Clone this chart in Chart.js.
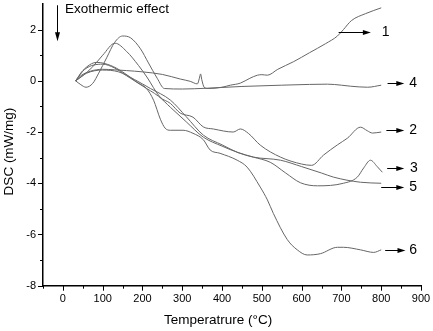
<!DOCTYPE html>
<html><head><meta charset="utf-8">
<script src="https://cdn.jsdelivr.net/npm/chart.js@4.4.0/dist/chart.umd.min.js"></script>
<style>html,body{margin:0;padding:0;background:#fff}#wrap{width:433px;height:331px}</style>
</head><body><div id="wrap"><canvas id="c" width="433" height="331"></canvas></div>
<script>
// ---- data (temperature °C, DSC mW/mg) ----
const temp1 = [32,45,70,100,130,160,200,250,295,320,338,343,346,349,355,365,400,421,446,470,489,500,514,540,580,620,660,690,705,725,760,800];
const dsc1  = [0,0.2,0.38,0.45,0.43,0.4,0.35,0.25,0.07,-0.02,-0.12,0.1,0.27,0.05,-0.25,-0.3,-0.25,-0.17,-0.09,0.1,0.22,0.24,0.22,0.45,0.75,1.1,1.45,1.75,2.0,2.35,2.62,2.85];
const temp2 = [32,50,75,100,131,160,190,211,244,270,295,327,353,378,428,446,466,496,547,600,625,655,690,715,748,765,778,800];
const dsc2  = [0,0.2,0.55,1.0,1.47,1.15,0.6,0.15,-0.63,-0.88,-1.26,-1.42,-1.8,-1.88,-2.0,-1.88,-2.05,-2.51,-2.98,-3.25,-3.3,-2.9,-2.5,-2.24,-1.81,-1.95,-2.04,-2.0];
const temp3 = [32,55,100,130,160,200,240,270,310,353,400,440,479,521,560,597,640,705,740,756,773,790,803];
const dsc3  = [0,0.45,0.65,0.5,0.2,-0.2,-0.6,-1.03,-1.6,-2.2,-2.55,-2.8,-2.98,-3.18,-3.6,-3.98,-4.1,-4.0,-3.76,-3.4,-3.1,-3.35,-3.57];
const temp4 = [32,45,58,75,90,110,130,150,170,195,215,237,255,300,360,450,550,620,665,700,723,766,800];
const dsc4  = [0,-0.15,-0.25,-0.1,0.3,0.9,1.5,1.75,1.68,1.25,0.7,0.1,-0.3,-0.32,-0.29,-0.22,-0.17,-0.14,-0.13,-0.17,-0.21,-0.25,-0.17];
const temp5 = [32,60,100,140,180,220,270,310,353,400,440,479,547,600,650,680,748,800];
const dsc5  = [0,0.3,0.42,0.35,0.05,-0.3,-0.75,-1.4,-2.12,-2.5,-2.8,-2.98,-3.1,-3.35,-3.6,-3.76,-3.96,-4.0];
const temp6 = [32,50,85,120,150,186,210,228,245,257,270,302,327,353,370,395,438,463,496,514,529,564,589,614,647,690,705,748,781,800];
const dsc6  = [0,0.4,0.72,0.6,0.35,-0.05,-0.3,-0.76,-1.5,-1.85,-1.93,-1.93,-2.05,-2.3,-2.7,-2.83,-3.1,-3.37,-4.15,-4.65,-5.18,-6.2,-6.6,-6.8,-6.75,-6.5,-6.5,-6.6,-6.7,-6.6];

const curveLabels = ['1','2','3','4','5','6'];
// arrow start T, arrow end T, arrow level, label T (data units)
const arrowFrom = [693,813,815,816,800,810];
const arrowTo   = [774,858,858,858,858,861];
const arrowY    = [1.9,-1.93,-3.42,-0.09,-4.15,-6.62];
const labelT    = [811,880,882,880,880,880];

const xTickLabels = [0,100,200,300,400,500,600,700,800,900];
const yTickLabels = [-8,-6,-4,-2,0,2];
const xTitle = 'Temperatrure (°C)';
const yTitle = 'DSC (mW/mg)';

const series = [[temp1,dsc1],[temp2,dsc2],[temp3,dsc3],[temp4,dsc4],[temp5,dsc5],[temp6,dsc6]];
const FONT = '"Liberation Sans", Arial, sans-serif';

const annot = {
  id:'annot',
  afterDraw(chart){
    const ctx = chart.ctx, xs = chart.scales.x, ys = chart.scales.y;
    ctx.save();
    ctx.strokeStyle = '#000'; ctx.lineWidth = 1;
    for (let v = -50; v <= 900; v += 50) {
      const p = Math.round(xs.getPixelForValue(v)) + 0.5;
      const len = (v % 100 === 0) ? 5 : 3;
      ctx.beginPath(); ctx.moveTo(p, xs.top); ctx.lineTo(p, xs.top + len); ctx.stroke();
    }
    for (let v = -8; v <= 2; v += 1) {
      const p = Math.round(ys.getPixelForValue(v)) + 0.5;
      const len = (v % 2 === 0) ? 5 : 3;
      ctx.beginPath(); ctx.moveTo(ys.right, p); ctx.lineTo(ys.right - len, p); ctx.stroke();
    }
    ctx.fillStyle = '#000';
    ctx.font = '14px ' + FONT;
    ctx.textAlign = 'center'; ctx.textBaseline = 'middle';
    for (let i = 0; i < curveLabels.length; i++) {
      const x0 = xs.getPixelForValue(arrowFrom[i]);
      const x1 = xs.getPixelForValue(arrowTo[i]);
      const y = Math.round(ys.getPixelForValue(arrowY[i])) + 0.5;
      ctx.beginPath(); ctx.moveTo(x0, y); ctx.lineTo(x1 - 6, y); ctx.stroke();
      ctx.beginPath(); ctx.moveTo(x1, y); ctx.lineTo(x1 - 8, y - 2.5); ctx.lineTo(x1 - 8, y + 2.5); ctx.closePath(); ctx.fill();
      ctx.fillText(curveLabels[i], xs.getPixelForValue(labelT[i]), y);
    }
    // exothermic arrow + text
    const ax = Math.round(xs.getPixelForValue(-15)) + 0.5;
    const ay0 = ys.getPixelForValue(2.95), ay1 = ys.getPixelForValue(1.55);
    ctx.beginPath(); ctx.moveTo(ax, ay0); ctx.lineTo(ax, ay1 - 6); ctx.stroke();
    ctx.beginPath(); ctx.moveTo(ax, ay1); ctx.lineTo(ax - 2.5, ay1 - 9); ctx.lineTo(ax + 2.5, ay1 - 9); ctx.closePath(); ctx.fill();
    ctx.font = '13.5px ' + FONT;
    ctx.textAlign = 'left';
    ctx.fillText('Exothermic effect', xs.getPixelForValue(5), ys.getPixelForValue(2.8));
    // axis titles
    ctx.font = '13.5px ' + FONT;
    ctx.textAlign = 'center';
    ctx.fillText(xTitle, xs.getPixelForValue(390), xs.top + 35);
    ctx.translate(ys.left + 9, ys.getPixelForValue(-2.76));
    ctx.rotate(-Math.PI / 2);
    ctx.fillText(yTitle, 0, 0);
    ctx.restore();
  }
};

new Chart(document.getElementById('c'), {
  type: 'scatter',
  data: {
    datasets: series.map((s, i) => ({
      label: curveLabels[i],
      data: s[0].map((t, k) => ({x: t, y: s[1][k]})),
      showLine: true,
      borderColor: '#666',
      borderWidth: 1,
      pointRadius: 0,
      cubicInterpolationMode: 'monotone',
      fill: false
    }))
  },
  options: {
    responsive: false,
    devicePixelRatio: 1,
    animation: false,
    layout: { padding: { top: 4, right: 12, left: 0, bottom: 0 } },
    plugins: { legend: { display: false }, tooltip: { enabled: false } },
    scales: {
      x: {
        type: 'linear', min: -50, max: 900,
        ticks: { stepSize: 50, padding: 7, color: '#000', font: { size: 11, family: FONT }, maxRotation: 0, autoSkip: false },
        afterBuildTicks: s => { s.ticks = s.ticks.filter(t => xTickLabels.includes(t.value)); },
        afterFit: s => { s.height = 45.3; s.paddingLeft = 0; s.paddingRight = 0; },
        grid: { display: false, drawTicks: false },
        border: { display: true, color: '#000', width: 1.5 },
        title: { display: false }
      },
      y: {
        type: 'linear', min: -8, max: 3,
        ticks: { stepSize: 1, padding: 7, color: '#000', font: { size: 11, family: FONT }, autoSkip: false },
        afterBuildTicks: s => { s.ticks = s.ticks.filter(t => yTickLabels.includes(t.value)); },
        afterFit: s => { s.width = 43; s.paddingTop = 0; s.paddingBottom = 0; },
        grid: { display: false, drawTicks: false },
        border: { display: true, color: '#000', width: 1.5 },
        title: { display: false }
      }
    }
  },
  plugins: [annot]
});
</script>
</body></html>
